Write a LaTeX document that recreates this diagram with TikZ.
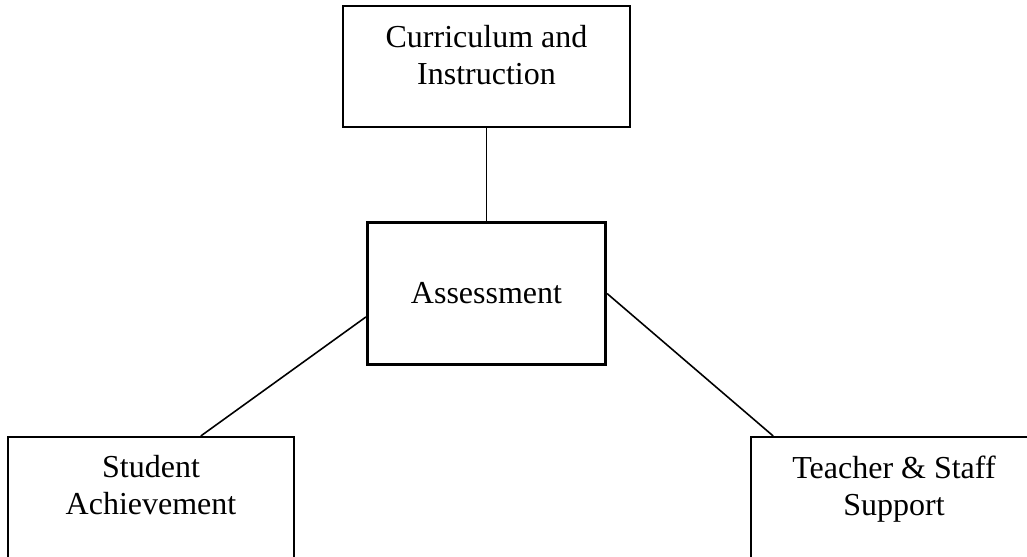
\documentclass[tikz,border=0pt]{standalone}
\usepackage{fontspec}
\setmainfont{Liberation Serif}
\usetikzlibrary{positioning}
\tikzset{
  box/.style={draw, line width=0.6pt, minimum width=2.86cm, minimum height=1.21cm, inner sep=0pt},
  hub/.style={draw, line width=0.85pt, minimum width=2.38cm, minimum height=1.41cm, inner sep=0pt,
    align=center, font=\fontsize{9.1}{10.5}\selectfont},
  caption/.style={align=center, inner sep=0pt, font=\fontsize{9.1}{10.5}\selectfont},
  link/.style={line width=0.45pt}
}
\begin{document}
\begin{tikzpicture}[x=0.01cm, y=-0.01cm]
  \useasboundingbox (0, 0) rectangle (1027, 556);

  % boxes
  \node[box] (curr) at (486.5, 66.5) {};
  \node[caption, anchor=north] (currtext) at (486.5, 25) {Curriculum and\\Instruction};

  \node[hub] (assess) at (486.5, 293.5) {Assessment};

  \node[box] (student) at (151, 497.5) {};
  \node[caption, anchor=north] (studenttext) at (151, 455) {Student\\Achievement};

  \node[box] (teacher) at (894, 497.5) {};
  \node[caption, anchor=north] (teachertext) at (894, 455) {Teacher \& Staff\\Support};

  % links
  \draw[link] (curr.south) -- (assess.north);
  \draw[link] (assess.191) -- (student.51);
  \draw[link] (assess.east) -- (teacher.153.6);
\end{tikzpicture}
\end{document}
